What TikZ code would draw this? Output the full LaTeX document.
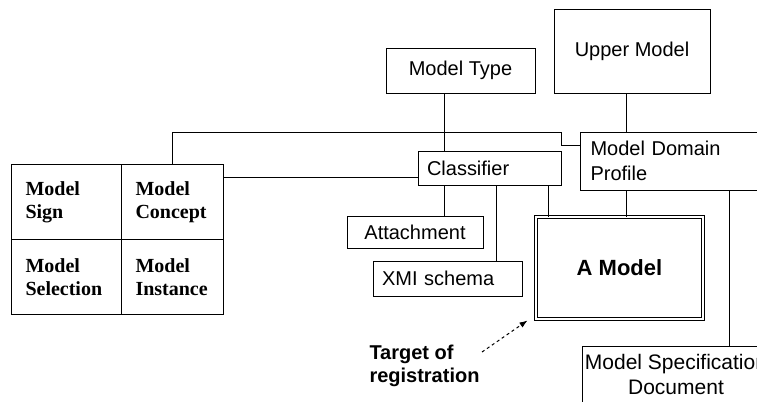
\documentclass[tikz,border=0pt]{standalone}
\usepackage{fontspec}
\setmainfont{Liberation Serif}
\setsansfont{Liberation Sans}
\usetikzlibrary{arrows.meta,calc}

\begin{document}
\begin{tikzpicture}[x=0.5pt,y=-0.5pt,line width=0.5pt,
        box/.style={draw,font=\sffamily\fontsize{10}{12.5}\selectfont,inner sep=0pt},
        cell/.style={draw,anchor=north west,font=\bfseries\fontsize{10}{11.5}\selectfont,
            align=left,minimum height=37.5pt,inner xsep=7pt,inner ysep=0pt}]
            \useasboundingbox (0,0) rectangle (757,402);
            \clip (0,0) rectangle (757,402);
            % the four cells
            \node[cell,text width=41pt] (sign) at (11,164) {Model\\Sign};
            \node[cell,text width=37pt] (concept) at (121,164) {Model\\Concept};
            \node[cell,text width=41pt] (selection) at (11,239) {Model\\Selection};
            \node[cell,text width=37pt] (instance) at (121,239) {Model\\Instance};
            % boxes
            \node[box,minimum width=74.5pt,minimum height=22.5pt] (mtype) at (460.5,70.5) {Model Type};
            \node[box,minimum width=78pt,minimum height=42pt] (upper) at (632,51) {Upper Model};
            \node[box,text width=62.5pt,inner xsep=4.5pt,minimum height=17pt,align=left] (cls) at (489.5,168) {Classifier};
            \node[box,minimum width=68pt,minimum height=16pt] (attach) at (415,232) {Attachment};
            \node[box,text width=65.5pt,inner xsep=4.5pt,minimum height=17.5pt,align=left] (xmi) at (447.5,278.5) {XMI schema};
            \node[box,anchor=west,text width=95pt,inner xsep=5pt,minimum height=29pt,align=left] (mdp) at (580,161) {Model Domain\\Profile};
            \node[box,double,double distance=1pt,minimum width=83.5pt,minimum height=51pt,
                font=\sffamily\bfseries\fontsize{11}{13}\selectfont] (amodel) at (619.5,268) {A Model};
            \node[box,anchor=north,inner xsep=1pt,inner ysep=3.85pt,text depth=6pt,align=center,
                font=\sffamily\fontsize{10.5}{12.5}\selectfont] (msd) at (676,346) {Model Specification\\Document};
            \node[font=\sffamily\bfseries\fontsize{10}{11.5}\selectfont,align=left,inner sep=0pt,anchor=north west]
                (target) at (369,345) {Target of\\registration};
            % connectors
            \coordinate (bendA) at (561,132);
            \coordinate (bendB) at (561,145);
            \coordinate (lvl) at (0,177);
            \coordinate (xa) at (444,0);
            \coordinate (xb) at (496,0);
            \coordinate (xc) at (548,0);
            \coordinate (xd) at (626,0);
            \coordinate (xe) at (729,0);
            \draw (concept.north) |- (bendA) -- (bendB) -- (bendB -| mdp.west);
            \draw (concept.east |- lvl) -- (cls.west |- lvl);
            \draw (mtype.south -| xa) -- (cls.north -| xa);
            \draw (cls.south -| xa) -- (attach.north -| xa);
            \draw (cls.south -| xb) -- (xmi.north -| xb);
            \draw (cls.south -| xc) -- (amodel.north -| xc);
            \draw (upper.south -| xd) -- (mdp.north -| xd);
            \draw (mdp.south -| xd) -- (amodel.north -| xd);
            \draw (mdp.south -| xe) -- (msd.north -| xe);
            \draw[dash pattern=on 1.5pt off 1.5pt,-{Latex[length=4pt,width=3pt]}]
                ($(target.north east)+(2,7)$) -- ($(amodel.south west)+(-8,1)$);
        \end{tikzpicture}
\end{document}
